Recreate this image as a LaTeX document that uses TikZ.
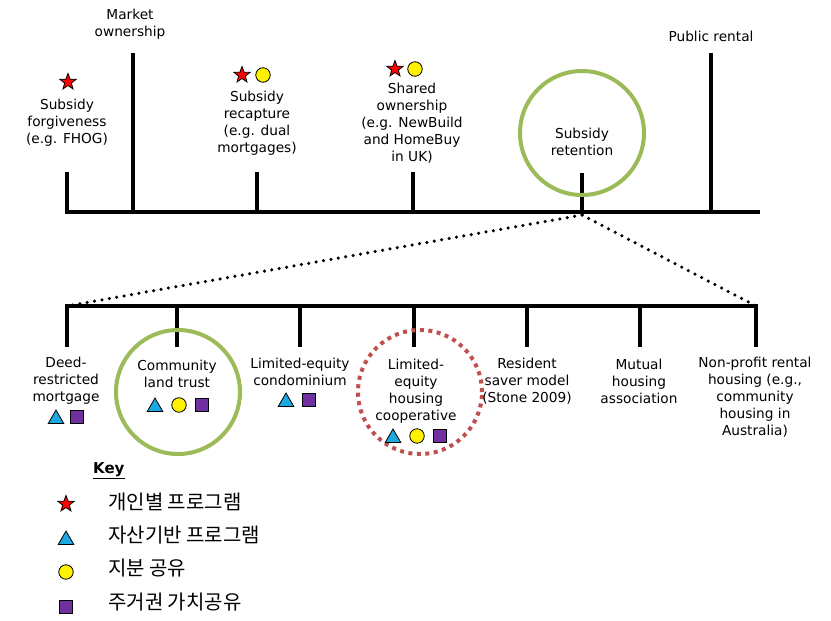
\documentclass[tikz,border=0pt]{standalone}
\usepackage{fontspec}
\setmainfont{DejaVu Sans}
\newfontfamily\kofont{Noto Sans CJK KR}
\usetikzlibrary{shapes.geometric}
\definecolor{ringgreen}{HTML}{9BBB59}
\definecolor{ringred}{HTML}{C0504D}
\definecolor{triblue}{HTML}{1CA8E0}
\definecolor{sqpurple}{HTML}{7030A0}
\begin{document}
\begin{tikzpicture}[x=1pt,y=-1pt,
  bar/.style={line width=4.5pt},
  lbl/.style={align=center, font=\fontsize{13.7}{17}\selectfont, inner sep=0pt},
  keytxt/.style={anchor=west, font=\kofont\fontsize{20}{22}\selectfont, inner sep=0pt},
  starmark/.style={star, star points=5, star point ratio=2.4, fill=red, draw=black, line width=0.8pt, minimum size=17pt, inner sep=0pt},
  trimark/.style={regular polygon, regular polygon sides=3, fill=triblue, draw=black, line width=0.8pt, minimum size=18pt, inner sep=0pt},
  dotmark/.style={circle, fill=yellow, draw=black, line width=0.8pt, minimum size=14.5pt, inner sep=0pt},
  sqmark/.style={rectangle, fill=sqpurple, draw=black, line width=0.8pt, minimum size=13.5pt, inner sep=0pt},
  ring/.style={draw=ringgreen, line width=4pt, circle, minimum size=124pt, inner sep=0pt},
  redring/.style={draw=ringred, line width=4pt, dash pattern=on 4pt off 4.5pt, circle, minimum size=124pt, inner sep=0pt},
  dotted link/.style={line width=3.5pt, line cap=round, dash pattern=on 0pt off 7.5pt}
]
\useasboundingbox (0,0) rectangle (831,621);

% ---------- upper spectrum ----------
\coordinate (tl) at (65,212);
\coordinate (tr) at (760,212);
\draw[bar] (tl) -- (tr);
\foreach \n/\x/\top in {t1/67/172, t2/133/53, t3/257/172, t4/413/172, t5/582/173, t6/711/53}{
  \coordinate (\n b) at (\x,212);
  \coordinate (\n t) at (\x,\top);
  \draw[bar] (\n b) -- (\n t);
}

\node[lbl] (market) at (130,24.5) {Market\\ownership};
\node[starmark] (s1) at (68,82) {};
\node[lbl] (forgive) at (67,123) {Subsidy\\forgiveness\\(e.g. FHOG)};
\node[starmark] (s2) at (242,75) {};
\node[dotmark] (c2) at (263,75) {};
\node[lbl] (recap) at (257,123.5) {Subsidy\\recapture\\(e.g. dual\\mortgages)};
\node[starmark] (s3) at (395,69) {};
\node[dotmark] (c3) at (415,69) {};
\node[lbl] (shared) at (412,123) {Shared\\ownership\\(e.g. NewBuild\\and HomeBuy\\in UK)};
\node[ring] (retring) at (582,133) {};
\node[lbl] (retain) at (582,141.5) {Subsidy\\retention};
\node[lbl] (public) at (711,36) {Public rental};

% ---------- lower spectrum ----------
\coordinate (bl) at (65,306);
\coordinate (br) at (758,306);
\draw[bar] (bl) -- (br);
\foreach \n/\x in {b1/67, b2/177, b3/300, b4/414, b5/527, b6/640, b7/756}{
  \coordinate (\n t) at (\x,306);
  \coordinate (\n b) at (\x,347);
  \draw[bar] (\n t) -- (\n b);
}

% zoom-in from subsidy retention
\coordinate (zoomtop) at (582,215);
\draw[dotted link] (zoomtop) -- (b1t);
\draw[dotted link] (zoomtop) -- (b7t);

\node[lbl] (deed) at (66,381) {Deed-\\restricted\\mortgage};
\node[trimark] (d1) at (56,419) {};
\node[sqmark] (d2) at (77,417) {};

\node[ring] (cltring) at (178,392) {};
\node[lbl] (clt) at (177,374) {Community\\land trust};
\node[trimark] (l1) at (155,407) {};
\node[dotmark] (l2) at (179,405) {};
\node[sqmark] (l3) at (202,405) {};

\node[lbl] (condo) at (300,371.5) {Limited-equity\\condominium};
\node[trimark] (m1) at (286,402) {};
\node[sqmark] (m2) at (309,400) {};

\node[redring] (coopring) at (420,392) {};
\node[lbl] (coop) at (416,391) {Limited-\\equity\\housing\\cooperative};
\node[trimark] (k1) at (393,438) {};
\node[dotmark] (k2) at (417,436) {};
\node[sqmark] (k3) at (440,436) {};

\node[lbl] (saver) at (527,381) {Resident\\saver model\\(Stone 2009)};
\node[lbl] (mutual) at (639,381) {Mutual\\housing\\association};
\node[lbl] (nonprofit) at (755,397.5) {Non-profit rental\\housing (e.g.,\\community\\housing in\\Australia)};

% ---------- key ----------
\node[lbl, anchor=west, font=\bfseries\fontsize{15}{17}\selectfont] (key) at (93,471) {\underline{Key}};
\node[starmark] (ks) at (66,504) {};
\node[keytxt] (kst) at (108,502) {개인별 프로그램};
\node[trimark] (kt) at (66,540) {};
\node[keytxt] (ktt) at (108,535) {자산기반 프로그램};
\node[dotmark] (kc) at (66,572) {};
\node[keytxt] (kct) at (108,568) {지분 공유};
\node[sqmark] (kq) at (66,607) {};
\node[keytxt] (kqt) at (108,602) {주거권 가치공유};
\end{tikzpicture}
\end{document}
